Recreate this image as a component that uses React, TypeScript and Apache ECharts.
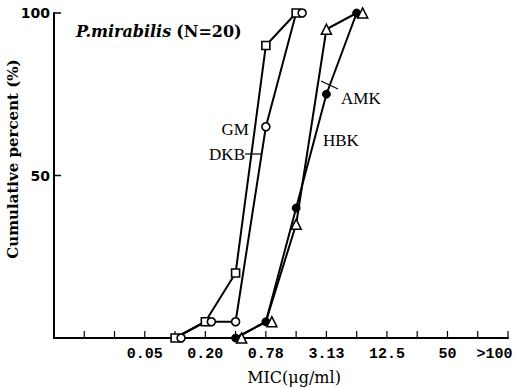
import React, { useEffect, useRef } from "react";
import * as echarts from "echarts";

// Two-fold dilution series (µg/ml); axis position = index + 1
const dilutions = ["0.0125", "0.025", "0.05", "0.10", "0.20", "0.39", "0.78", "1.56", "3.13", "6.25", "12.5", "25", "50", "100"];
const labeledDilutions = ["0.05", "0.20", "0.78", "3.13", "12.5", "50"];
const overLabel = ">100";

// Cumulative percent of strains inhibited at each MIC
const gmMic = ["0.10", "0.20", "0.39", "0.78", "1.56"];
const gmPct = [0, 5, 20, 90, 100];
const dkbMic = ["0.10", "0.20", "0.39", "0.78", "1.56"];
const dkbPct = [0, 5, 5, 65, 100];
const hbkMic = ["0.39", "0.78", "1.56", "3.13", "6.25"];
const hbkPct = [0, 5, 40, 75, 100];
const amkMic = ["0.39", "0.78", "1.56", "3.13", "6.25"];
const amkPct = [0, 5, 35, 95, 100];

const yLabels = [50, 100];

const pos = (mic: string) => dilutions.indexOf(mic) + 1;
const toData = (mics: string[], pcts: number[], shifted: boolean[] = []) =>
  mics.map((m, i) => ({
    value: [pos(m), pcts[i]],
    symbolOffset: shifted[i] ? [6, 0] : [0, 0],
  }));

export default function App() {
  const ref = useRef<HTMLDivElement>(null);

  useEffect(() => {
    document.body.style.margin = "0";
    if (!ref.current) return;
    const chart = echarts.init(ref.current, null, { renderer: "svg" });

    const xMax = dilutions.length + 1;
    const labelPositions = [...labeledDilutions.map(pos), dilutions.length + 0.55];
    const labelText = (v: number) => {
      const i = labeledDilutions.findIndex((d) => pos(d) === v);
      if (i >= 0) return labeledDilutions[i];
      return v > dilutions.length ? overLabel : "";
    };

    // Inward tick marks: [x, y, direction] with 0 = on the x axis, 1 = on the y axis
    const tickMarks = [
      ...Array.from({ length: xMax }, (_, i) => [i + 1, 0, 0]),
      ...yLabels.map((v) => [0, v, 1]),
    ];

    const lineBase = {
      type: "line" as const,
      lineStyle: { color: "#000", width: 2 },
      showSymbol: true,
      symbolKeepAspect: true,
    };
    const openItem = { color: "#fff", borderColor: "#000", borderWidth: 1.6 };

    chart.setOption({
      animation: false,
      title: {
        text: "{i|P.mirabilis} {n|(N=20)}",
        left: 71,
        top: 17,
        textStyle: {
          rich: {
            i: { fontFamily: "DejaVu Serif", fontStyle: "italic", fontWeight: "bold", fontSize: 16, color: "#000" },
            n: { fontFamily: "DejaVu Serif", fontWeight: "bold", fontSize: 16, color: "#000" },
          },
        },
      },
      grid: { left: 54, right: 12, top: 13, bottom: 50 },
      xAxis: {
        type: "value",
        min: 0,
        max: xMax,
        interval: 1,
        splitLine: { show: false },
        axisLine: { show: true, lineStyle: { color: "#000", width: 2 } },
        axisTick: { show: false },
        axisLabel: {
          customValues: labelPositions,
          formatter: (v: number) => labelText(v),
          color: "#000",
          fontFamily: "Liberation Mono",
          fontWeight: "bold",
          fontSize: 15,
          margin: 9,
        },
      },
      yAxis: {
        type: "value",
        min: 0,
        max: 100,
        interval: 50,
        splitLine: { show: false },
        axisLine: { show: true, lineStyle: { color: "#000", width: 2 } },
        axisTick: { show: false },
        axisLabel: {
          formatter: (v: number) => (yLabels.includes(v) ? String(v) : ""),
          color: "#000",
          fontFamily: "DejaVu Sans",
          fontWeight: "bold",
          fontSize: 14,
          margin: 4,
        },
      },
      graphic: [
        {
          type: "text",
          x: 13,
          y: 159,
          rotation: Math.PI / 2,
          style: {
            text: "Cumulative percent (%)",
            fill: "#000",
            font: "bold 15px 'DejaVu Serif'",
            textAlign: "center",
            textVerticalAlign: "middle",
          },
        },
        {
          type: "text",
          x: 294,
          y: 377,
          style: {
            text: "MIC(\u03bcg/ml)",
            fill: "#000",
            font: "16px 'DejaVu Serif'",
            textAlign: "center",
            textVerticalAlign: "middle",
          },
        },
        { type: "text", x: 249, y: 129, style: { text: "GM", fill: "#000", font: "17px 'Liberation Serif'", textAlign: "right", textVerticalAlign: "middle" } },
        { type: "text", x: 245, y: 154, style: { text: "DKB", fill: "#000", font: "17px 'Liberation Serif'", textAlign: "right", textVerticalAlign: "middle" } },
        { type: "line", shape: { x1: 245, y1: 154, x2: 261, y2: 154 }, style: { stroke: "#000", lineWidth: 1.2 } },
        { type: "text", x: 341, y: 98, style: { text: "AMK", fill: "#000", font: "17px 'Liberation Serif'", textAlign: "left", textVerticalAlign: "middle" } },
        { type: "line", shape: { x1: 338, y1: 89, x2: 321, y2: 81 }, style: { stroke: "#000", lineWidth: 1.2 } },
        { type: "text", x: 323, y: 140, style: { text: "HBK", fill: "#000", font: "17px 'Liberation Serif'", textAlign: "left", textVerticalAlign: "middle" } },
      ],
      series: [
        {
          type: "custom",
          name: "ticks",
          silent: true,
          z: 1,
          encode: { x: 0, y: 1 },
          data: tickMarks,
          renderItem: (_params: any, api: any) => {
            const p = api.coord([api.value(0), api.value(1)]);
            const onY = api.value(2) === 1;
            return {
              type: "line",
              shape: onY
                ? { x1: p[0], y1: p[1], x2: p[0] + 7, y2: p[1] }
                : { x1: p[0], y1: p[1], x2: p[0], y2: p[1] - 7 },
              style: { stroke: "#000", lineWidth: onY ? 1.5 : 1.2 },
            };
          },
        },
        {
          ...lineBase,
          name: "GM",
          symbol: "rect",
          symbolSize: 8,
          itemStyle: openItem,
          data: toData(gmMic, gmPct),
        },
        {
          ...lineBase,
          name: "DKB",
          symbol: "circle",
          symbolSize: 8,
          itemStyle: openItem,
          data: toData(dkbMic, dkbPct, [true, true, false, false, true]),
        },
        {
          ...lineBase,
          name: "HBK",
          symbol: "circle",
          symbolSize: 8,
          itemStyle: { color: "#000", borderColor: "#000" },
          data: toData(hbkMic, hbkPct),
        },
        {
          ...lineBase,
          name: "AMK",
          symbol: "triangle",
          symbolSize: 10,
          itemStyle: openItem,
          data: toData(amkMic, amkPct, [true, true, false, false, true]),
        },
      ],
    });

    return () => chart.dispose();
  }, []);

  return <div ref={ref} style={{ width: 520, height: 388 }} />;
}
